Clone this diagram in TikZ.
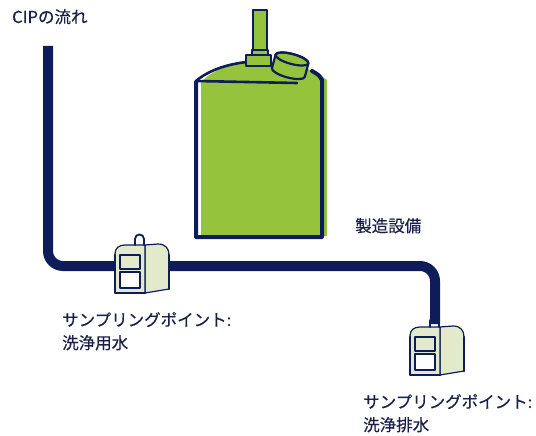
\documentclass[tikz,border=0pt]{standalone}
\usepackage{fontspec}
\setmainfont{Noto Sans CJK JP}
\newfontfamily\labelfont{Noto Sans CJK JP}[FakeBold=0.35]
\definecolor{navy}{HTML}{0E1C5A}
\definecolor{tankgreen}{HTML}{96C33C}
\definecolor{pale}{HTML}{E2EACB}
\definecolor{labeltext}{HTML}{1A2048}
\tikzset{
  pipe/.style={draw=navy, line width=10pt, rounded corners=15pt},
  label/.style={anchor=base west, inner sep=0pt, text=labeltext, font=\labelfont\fontsize{16.5}{20}\selectfont},
  outline/.style={draw=navy, line join=round, line cap=round},
  sampler/.pic={
    % side face
    \filldraw[fill=pale, outline, line width=1.2pt]
      (30,0) -- (43,-1) .. controls (51,-1) and (54,4) .. (54,10)
      -- (54,44) -- (30,48) -- cycle;
    \draw[outline, line width=2.6pt] (54,10) -- (54,44);
    % front face
    \filldraw[fill=pale, outline, line width=1.2pt]
      (0,48) -- (0,9) .. controls (0,3) and (4,0) .. (10,0)
      -- (30,0) -- (30,48) -- cycle;
    \draw[outline, line width=2.8pt] (0,10) -- (0,48) -- (30,48);
    % windows
    \filldraw[fill=pale, outline, line width=1.3pt] (5,10) rectangle (25,24);
    \filldraw[fill=white, outline, line width=1.3pt] (5,27) rectangle (25,43);
    % handle
    \draw[outline, line width=1.8pt]
      (20,0) -- (20,-6) .. controls (20,-12) and (29,-12) .. (29,-6) -- (29,0);
  }
}
\begin{document}
\begin{tikzpicture}[x=1pt, y=-1pt]
\useasboundingbox (0,0) rectangle (536,436);

% ---- production tank ----
\fill[tankgreen] (201,236) -- (201,82)
  .. controls (214,69) and (232,63) .. (258,61)
  .. controls (285,61) and (310,66) .. (327,80) -- (327,236) -- cycle;
\draw[outline, line width=4pt]
  (196,82) -- (196,237) -- (322,237) -- (322,80) .. controls (319,75) .. (312,71);
\draw[outline, line width=2.6pt] (196,81) .. controls (209,70) and (228,64) .. (247,62);
\draw[outline, line width=2.6pt] (196,81) -- (297,83);
% stem and nut
\filldraw[fill=tankgreen, outline, line width=2pt] (253,10) rectangle (267,50);
\filldraw[fill=tankgreen, outline, line width=2pt] (252,50) rectangle (268,55);
\filldraw[fill=tankgreen, outline, line width=2pt] (246,55) rectangle (271,66);
% tilted cap
\begin{scope}[shift={(292,59)}, rotate=-15]
  \filldraw[fill=tankgreen, outline, line width=2.2pt]
    (-17,0) -- (-17,14) arc (180:0:17 and 5) -- (17,0) arc (0:-180:17 and 5) -- cycle;
  \draw[outline, line width=2.2pt] (0,0) ellipse (17 and 5);
\end{scope}

% ---- CIP line ----
\draw[pipe] (48,46) -- (48,266) -- (435,266) -- (435,324);

% ---- sampling points ----
\pic (s1) at (115,245) {sampler};
\pic (s2) at (410,327) {sampler};

% ---- labels ----
\node[label] (cip) at (12,23) {CIPの流れ};
\node[label] (tank) at (355,232) {製造設備};
\node[label] (s1a) at (62,326) {サンプリングポイント:};
\node[label] (s1b) at (62,349) {洗浄用水};
\node[label] (s2a) at (363,408) {サンプリングポイント:};
\node[label] (s2b) at (363,431) {洗浄排水};
\end{tikzpicture}
\end{document}
